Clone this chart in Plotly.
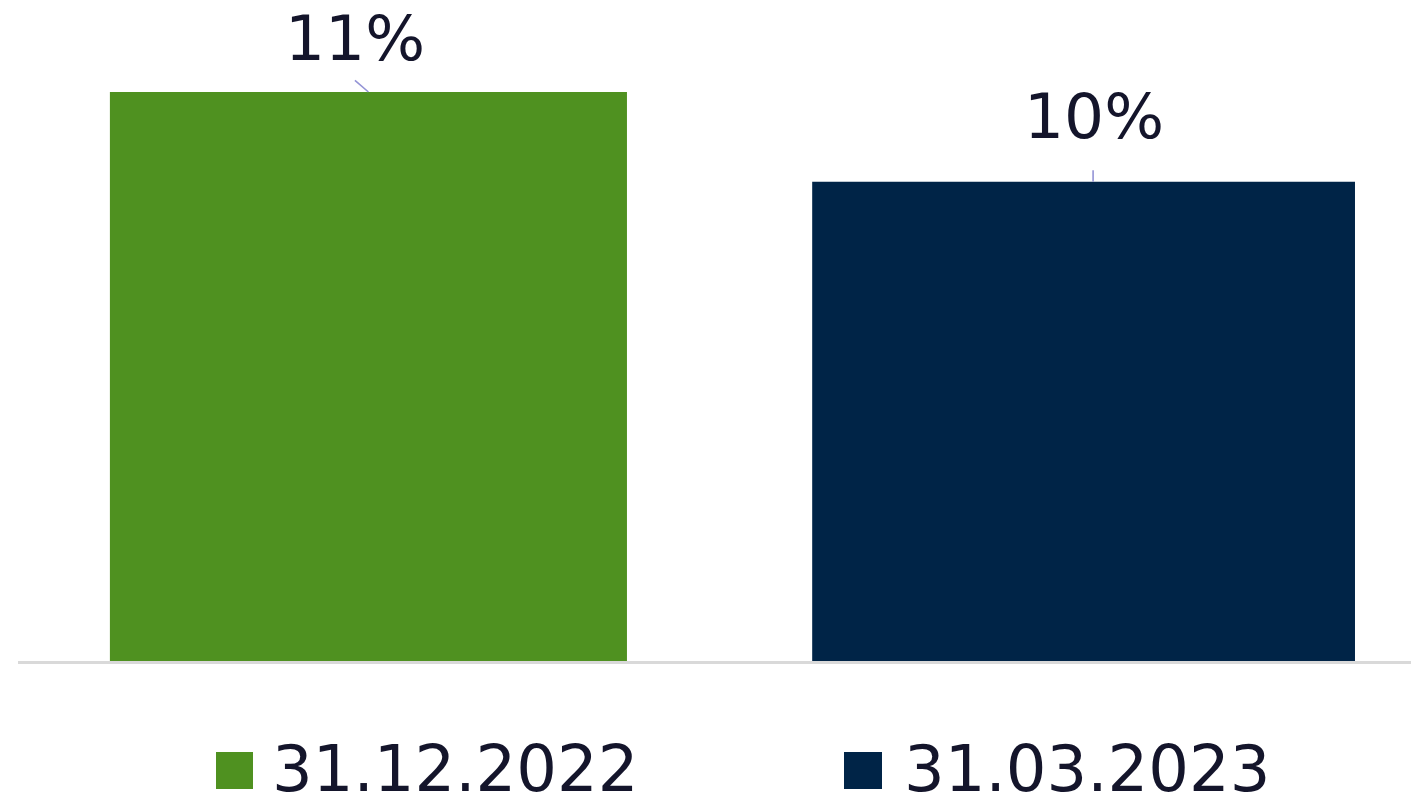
import plotly.graph_objects as go

# ---- data ----
series_names = ["31.12.2022", "31.03.2023"]
values = [11.4, 9.6]          # percent (bar heights)
label_texts = ["11%", "10%"]
colors = ["#4F9120", "#002447"]
positions = [0, 1]
bar_widths = [0.723, 0.759]

# page has an 8px body margin; size the figure to fit the viewport
OFF = 8
W, H = 1419 - OFF, 804 - OFF
ML, MR, MT, MB = 18 - OFF, 0, 0, 143
PW, PH = W - ML - MR, H - MT - MB

def px_to_paper_x(px):
    return (px - OFF - ML) / PW

def px_to_paper_y(py):
    return (H - MB - (py - OFF)) / PH

TEXT_COLOR = "#14152B"
FONT = "DejaVu Sans"

fig = go.Figure()
for name, v, c, x, w in zip(series_names, values, colors, positions, bar_widths):
    fig.add_trace(go.Bar(
        x=[x], y=[v], width=[w], name=name,
        marker=dict(color=c, line=dict(width=0)),
        showlegend=False, hoverinfo="skip",
    ))

annotations = []
# value labels with leader lines
label_offsets = [(-13, -54, 0), (1, -65, 9.5)]
leader = [(-15, -13, 0), (0, -13, 9.5)]
for x, v, t, (ax, ay, xs), (lax, lay, lxs) in zip(positions, values, label_texts, label_offsets, leader):
    annotations.append(dict(
        x=x, y=v, xref="x", yref="y", text=t, showarrow=False,
        xshift=xs + ax, yshift=-ay,
        font=dict(family=FONT, size=63, color=TEXT_COLOR),
    ))
    annotations.append(dict(
        x=x, y=v, xref="x", yref="y", text="", showarrow=True,
        arrowhead=0, arrowwidth=1.6, arrowcolor="#9494D6",
        ax=lax, ay=lay, xshift=lxs, standoff=0,
    ))

# custom legend
shapes = []
legend_items = [(216, 253, 270), (844, 882, 902)]
for name, c, (sx0, sx1, tx) in zip(series_names, colors, legend_items):
    shapes.append(dict(
        type="rect", xref="paper", yref="paper",
        x0=px_to_paper_x(sx0), x1=px_to_paper_x(sx1),
        y0=px_to_paper_y(789), y1=px_to_paper_y(752),
        fillcolor=c, line=dict(width=0),
    ))
    annotations.append(dict(
        x=px_to_paper_x(tx), y=px_to_paper_y(769), xref="paper", yref="paper",
        xanchor="left", yanchor="middle", text=name, showarrow=False,
        font=dict(family=FONT, size=64, color=TEXT_COLOR),
    ))

ymax = values[0] * PH / 569.0

fig.update_layout(
    width=W, height=H,
    margin=dict(l=ML, r=MR, t=MT, b=MB),
    paper_bgcolor="white", plot_bgcolor="white",
    barmode="overlay",
    xaxis=dict(range=[-0.490, 1.469], showgrid=False, zeroline=False,
               showticklabels=False, ticks="", showline=True,
               linecolor="#D9D9D9", linewidth=3, fixedrange=True),
    yaxis=dict(range=[0, ymax], showgrid=False, zeroline=False,
               showticklabels=False, ticks="", showline=False, fixedrange=True),
    annotations=annotations,
    shapes=shapes,
    showlegend=False,
)

fig.write_html("out.html", config={"displayModeBar": False})
